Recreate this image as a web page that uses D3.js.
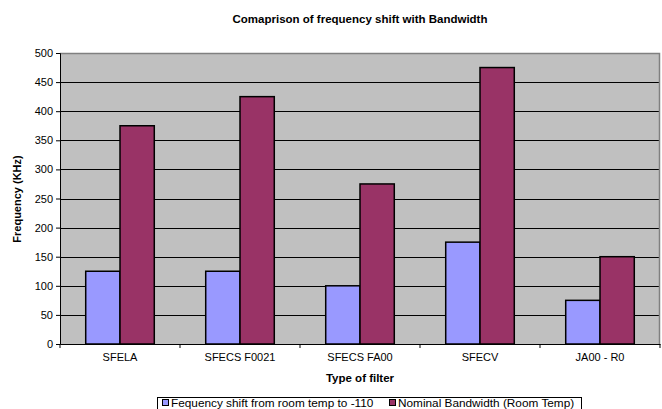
<!DOCTYPE html>
<html>
<head>
<meta charset="utf-8">
<script src="https://cdn.jsdelivr.net/npm/d3@7"></script>
<style>
  body { margin: 0; background: #fff; }
  text { font-family: "Liberation Sans", Arial, sans-serif; fill: #000; }
</style>
</head>
<body>
<div id="chart"></div>
<script>
// DATA
const categories = ["SFELA", "SFECS F0021", "SFECS FA00", "SFECV", "JA00 - R0"];
const shiftValues = [125, 125, 100, 175, 75];          // Fequency shift from room temp to -110
const bandwidthValues = [375, 425, 275, 475, 150];     // Nominal Bandwidth (Room Temp)
const seriesNames = ["Fequency shift from room temp to -110", "Nominal Bandwidth (Room Temp)"];
const seriesColors = ["#9999ff", "#993366"];
const yTicks = [0, 50, 100, 150, 200, 250, 300, 350, 400, 450, 500];

// LAYOUT
const width = 662, height = 409;
const plot = {left: 60, right: 660, top: 53, bottom: 344};

const svg = d3.select("#chart").append("svg")
    .attr("width", width)
    .attr("height", height);

// Scales
const x = d3.scaleBand()
    .domain(categories)
    .range([plot.left, plot.right]);

const xInner = d3.scaleBand()
    .domain(d3.range(seriesNames.length))
    .range([0, x.bandwidth()])
    .paddingInner(0)
    .paddingOuter(0.75);

const y = d3.scaleLinear()
    .domain([0, 500])
    .range([plot.bottom, plot.top]);

// Plot background
svg.append("rect")
    .attr("x", plot.left)
    .attr("y", plot.top)
    .attr("width", plot.right - plot.left)
    .attr("height", plot.bottom - plot.top)
    .attr("fill", "#c0c0c0");

// Gridlines
svg.append("g")
    .selectAll("line")
    .data(yTicks.filter(d => d > 0 && d < 500))
    .enter().append("line")
    .attr("x1", plot.left)
    .attr("x2", plot.right)
    .attr("y1", d => Math.round(y(d)) + 0.5)
    .attr("y2", d => Math.round(y(d)) + 0.5)
    .attr("stroke", "#000")
    .attr("stroke-width", 1);

// Plot border (top and right, grey)
svg.append("path")
    .attr("d", `M${plot.left},${plot.top + 0.5}H${plot.right - 0.5}V${plot.bottom}`)
    .attr("fill", "none")
    .attr("stroke", "#808080")
    .attr("stroke-width", 1.5);

// Bars
const groups = svg.append("g")
    .selectAll("g")
    .data(categories.map((c, i) => ({cat: c, vals: [shiftValues[i], bandwidthValues[i]]})))
    .enter().append("g")
    .attr("transform", d => `translate(${x(d.cat)},0)`);

groups.selectAll("rect")
    .data(d => d.vals.map((v, i) => ({v, i})))
    .enter().append("rect")
    .attr("x", d => xInner(d.i))
    .attr("y", d => y(d.v))
    .attr("width", xInner.bandwidth())
    .attr("height", d => y(0) - y(d.v))
    .attr("fill", d => seriesColors[d.i])
    .attr("stroke", "#000")
    .attr("stroke-width", 1.5);

// Y axis
const yAxis = d3.axisLeft(y)
    .tickValues(yTicks)
    .tickSize(4)
    .tickPadding(3);

const yg = svg.append("g")
    .attr("transform", `translate(${plot.left},0)`)
    .call(yAxis);
yg.select(".domain").attr("stroke", "#000");
yg.selectAll("text").attr("font-size", 11);

// X axis
const xAxis = d3.axisBottom(x)
    .tickSize(0)
    .tickPadding(9);

const xg = svg.append("g")
    .attr("transform", `translate(0,${plot.bottom})`)
    .call(xAxis);
xg.select(".domain").attr("stroke", "#000");
xg.selectAll("text").attr("font-size", 11);

// Category separator ticks
xg.append("g")
    .selectAll("line")
    .data(categories.map(c => x(c)).concat([plot.right]))
    .enter().append("line")
    .attr("x1", d => d)
    .attr("x2", d => d)
    .attr("y1", 0)
    .attr("y2", 4)
    .attr("stroke", "#000");

// Titles
svg.append("text")
    .attr("x", 360)
    .attr("y", 23)
    .attr("text-anchor", "middle")
    .attr("font-size", 11.5)
    .attr("font-weight", "bold")
    .text("Comaprison of frequency shift with Bandwidth");

svg.append("text")
    .attr("x", 360)
    .attr("y", 382)
    .attr("text-anchor", "middle")
    .attr("font-size", 11.5)
    .attr("font-weight", "bold")
    .text("Type of filter");

svg.append("text")
    .attr("transform", "translate(21,199) rotate(-90)")
    .attr("text-anchor", "middle")
    .attr("font-size", 11)
    .attr("font-weight", "bold")
    .text("Frequency (KHz)");

// Legend
const legend = svg.append("g");
legend.append("rect")
    .attr("x", 157.5)
    .attr("y", 397.5)
    .attr("width", 424)
    .attr("height", 20)
    .attr("fill", "#fff")
    .attr("stroke", "#000");

const legendX = [162, 389];
seriesNames.forEach((name, i) => {
    legend.append("rect")
        .attr("x", legendX[i] + 0.5)
        .attr("y", 399.5)
        .attr("width", 6)
        .attr("height", 6)
        .attr("fill", seriesColors[i])
        .attr("stroke", "#000");
    legend.append("text")
        .attr("x", legendX[i] + 9)
        .attr("y", 406.5)
        .attr("font-size", 11.8)
        .text(name);
});
</script>
</body>
</html>
